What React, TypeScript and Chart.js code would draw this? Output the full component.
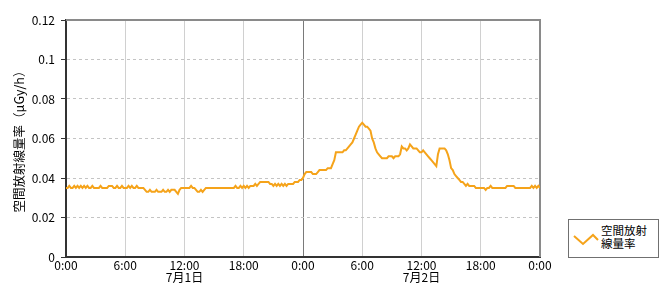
import React, { useEffect, useRef } from 'react';
import { Chart, registerables } from 'chart.js';

Chart.register(...registerables);

// 10-minute readings, 7/1 0:00 .. 7/1 23:50
const day1Values = [
  0.035, 0.035, 0.036, 0.035, 0.035, 0.036,
  0.035, 0.036, 0.035, 0.036, 0.035, 0.036,
  0.035, 0.036, 0.035, 0.035, 0.036, 0.035,
  0.035, 0.035, 0.035, 0.036, 0.035, 0.035,
  0.035, 0.035, 0.036, 0.036, 0.036, 0.035,
  0.035, 0.036, 0.035, 0.035, 0.036, 0.035,
  0.035, 0.035, 0.036, 0.035, 0.036, 0.035,
  0.035, 0.036, 0.035, 0.035, 0.035, 0.035,
  0.034, 0.033, 0.033, 0.034, 0.033, 0.033,
  0.033, 0.034, 0.033, 0.033, 0.033, 0.034,
  0.033, 0.033, 0.034, 0.033, 0.034, 0.034,
  0.034, 0.033, 0.032, 0.034, 0.035, 0.035,
  0.035, 0.035, 0.035, 0.035, 0.036, 0.035,
  0.035, 0.034, 0.033, 0.033, 0.034, 0.033,
  0.034, 0.035, 0.035, 0.035, 0.035, 0.035,
  0.035, 0.035, 0.035, 0.035, 0.035, 0.035,
  0.035, 0.035, 0.035, 0.035, 0.035, 0.035,
  0.035, 0.036, 0.035, 0.035, 0.036, 0.035,
  0.036, 0.035, 0.036, 0.035, 0.036, 0.036,
  0.036, 0.037, 0.036, 0.037, 0.038, 0.038,
  0.038, 0.038, 0.038, 0.038, 0.037, 0.037,
  0.036, 0.037, 0.036, 0.037, 0.036, 0.037,
  0.036, 0.037, 0.036, 0.037, 0.037, 0.037,
  0.037, 0.038, 0.038, 0.038, 0.039, 0.039,
];

// 10-minute readings, 7/2 0:00 .. 7/3 0:00
const day2Values = [
  0.040, 0.042, 0.043, 0.043, 0.043, 0.043,
  0.042, 0.042, 0.042, 0.043, 0.044, 0.044,
  0.044, 0.044, 0.044, 0.045, 0.045, 0.045,
  0.047, 0.049, 0.053, 0.053, 0.053, 0.053,
  0.053, 0.054, 0.054, 0.055, 0.056, 0.057,
  0.058, 0.060, 0.062, 0.064, 0.066, 0.067,
  0.068, 0.067, 0.066, 0.066, 0.065, 0.064,
  0.060, 0.058, 0.055, 0.053, 0.052, 0.051,
  0.050, 0.050, 0.050, 0.050, 0.051, 0.051,
  0.051, 0.050, 0.051, 0.051, 0.051, 0.052,
  0.056, 0.055, 0.055, 0.054, 0.055, 0.057,
  0.056, 0.055, 0.055, 0.055, 0.054, 0.053,
  0.053, 0.054, 0.053, 0.052, 0.051, 0.050,
  0.049, 0.048, 0.047, 0.046, 0.052, 0.055,
  0.055, 0.055, 0.055, 0.054, 0.052, 0.049,
  0.045, 0.044, 0.042, 0.041, 0.040, 0.039,
  0.038, 0.038, 0.037, 0.036, 0.037, 0.036,
  0.036, 0.036, 0.036, 0.035, 0.035, 0.035,
  0.035, 0.035, 0.035, 0.034, 0.035, 0.035,
  0.036, 0.035, 0.035, 0.035, 0.035, 0.035,
  0.035, 0.035, 0.035, 0.035, 0.036, 0.036,
  0.036, 0.036, 0.036, 0.035, 0.035, 0.035,
  0.035, 0.035, 0.035, 0.035, 0.035, 0.035,
  0.035, 0.036, 0.035, 0.036, 0.035, 0.036,
  0.035,
];

const sampleMinutes = 10;
const seriesName = '空間放射線量率';
const yAxisTitle = '空間放射線量率（μGy/h）';

const xTickHours = [0, 6, 12, 18, 24, 30, 36, 42, 48];
const xTickTexts: (string | string[])[] = [
  '0:00', '6:00', ['12:00', '7月1日'], '18:00', '0:00', '6:00', ['12:00', '7月2日'], '18:00', '0:00',
];
const yTickValues = [0, 0.02, 0.04, 0.06, 0.08, 0.1, 0.12];
const yTickTexts = ['0', '0.02', '0.04', '0.06', '0.08', '0.1', '0.12'];

const LINE_COLOR = '#F5A31A';
const NUM_FONT = '"Noto Sans CJK JP", sans-serif';
const JP_FONT = '"Noto Sans CJK JP", sans-serif';

const frameBorder = {
  id: 'frameBorder',
  beforeDatasetsDraw(chart: any) {
    const { ctx, chartArea } = chart;
    ctx.save();
    ctx.strokeStyle = '#8a8a8a';
    ctx.lineWidth = 2;
    ctx.beginPath();
    ctx.moveTo(chartArea.left, chartArea.top);
    ctx.lineTo(chartArea.right, chartArea.top);
    ctx.lineTo(chartArea.right, chartArea.bottom);
    ctx.stroke();
    ctx.restore();
  },
};

export default function App() {
  const canvasRef = useRef<HTMLCanvasElement | null>(null);

  useEffect(() => {
    const canvas = canvasRef.current;
    if (!canvas) return;
    const allValues = [...day1Values, ...day2Values];
    const points = allValues.map((v, i) => ({ x: (i * sampleMinutes) / 60, y: v }));

    const chart = new Chart(canvas, {
      type: 'line',
      data: {
        datasets: [
          {
            label: seriesName,
            data: points,
            borderColor: LINE_COLOR,
            backgroundColor: LINE_COLOR,
            borderWidth: 2,
            pointRadius: 0,
            tension: 0,
            fill: false,
          },
        ],
      },
      options: {
        animation: false,
        responsive: false,
        devicePixelRatio: 1,
        layout: { padding: { top: 20, right: 130, left: 0, bottom: 0 } },
        plugins: {
          legend: { display: false },
          tooltip: { enabled: false },
        },
        scales: {
          x: {
            type: 'linear',
            min: 0,
            max: 48,
            afterFit: (s: any) => {
              s.height = 43;
            },
            afterBuildTicks: (s: any) => {
              s.ticks = xTickHours.map((h) => ({ value: h }));
            },
            ticks: {
              autoSkip: false,
              maxRotation: 0,
              padding: 2,
              color: '#000',
              font: { family: NUM_FONT, size: 12, lineHeight: 1.0 },
              callback: (v: any) => {
                const idx = xTickHours.indexOf(Number(v));
                return idx >= 0 ? xTickTexts[idx] : '';
              },
            },
            grid: {
              drawTicks: false,
              lineWidth: 1,
              color: (ctx: any) => {
                const v = ctx.tick ? ctx.tick.value : -1;
                if (v === 24) return '#7a7a7a';
                if (v === 48 || v === 0) return 'rgba(0,0,0,0)';
                return '#d0d0d0';
              },
            },
            border: { display: true, color: '#333', width: 2 },
          },
          y: {
            min: 0,
            max: 0.12,
            afterFit: (s: any) => {
              s.width = 66;
            },
            afterBuildTicks: (s: any) => {
              s.ticks = yTickValues.map((v) => ({ value: v }));
            },
            ticks: {
              padding: 6,
              color: '#000',
              font: { family: NUM_FONT, size: 12 },
              callback: (v: any) => {
                const idx = yTickValues.findIndex((t) => Math.abs(t - Number(v)) < 1e-9);
                return idx >= 0 ? yTickTexts[idx] : '';
              },
            },
            grid: {
              lineWidth: 1,
              tickLength: 5,
              tickColor: '#333',
              color: (ctx: any) => {
                const v = ctx.tick ? ctx.tick.value : -1;
                if (Math.abs(v - 0.12) < 1e-9 || v === 0) return 'rgba(0,0,0,0)';
                return '#c4c4c4';
              },
            },
            border: { display: true, color: '#333', width: 2, dash: [3, 3] },
            title: {
              display: true,
              text: yAxisTitle,
              color: '#000',
              font: { family: JP_FONT, size: 12.5 },
              padding: { top: 12, bottom: 0 },
            },
          },
        },
      },
      plugins: [frameBorder],
    } as any);

    return () => chart.destroy();
  }, []);

  return (
    <div style={{ position: 'absolute', left: 0, top: 0, width: 670, height: 300, background: '#fff' }}>
      <canvas ref={canvasRef} width={670} height={300} style={{ display: 'block', width: 670, height: 300 }} />
      <div
        style={{
          position: 'absolute',
          left: 568,
          top: 219,
          width: 89,
          height: 37,
          border: '1px solid #707070',
          background: '#fff',
        }}
      >
        <svg width={30} height={20} style={{ position: 'absolute', left: 3, top: 12 }}>
          <polyline points="2,4 11,12 21,3 26,8" fill="none" stroke={LINE_COLOR} strokeWidth={2} />
        </svg>
        <div
          style={{
            position: 'absolute',
            left: 32,
            top: 4,
            fontFamily: JP_FONT,
            fontSize: 11.5,
            lineHeight: '13px',
            color: '#000',
            whiteSpace: 'nowrap',
          }}
        >
          空間放射
          <br />
          線量率
        </div>
      </div>
    </div>
  );
}
